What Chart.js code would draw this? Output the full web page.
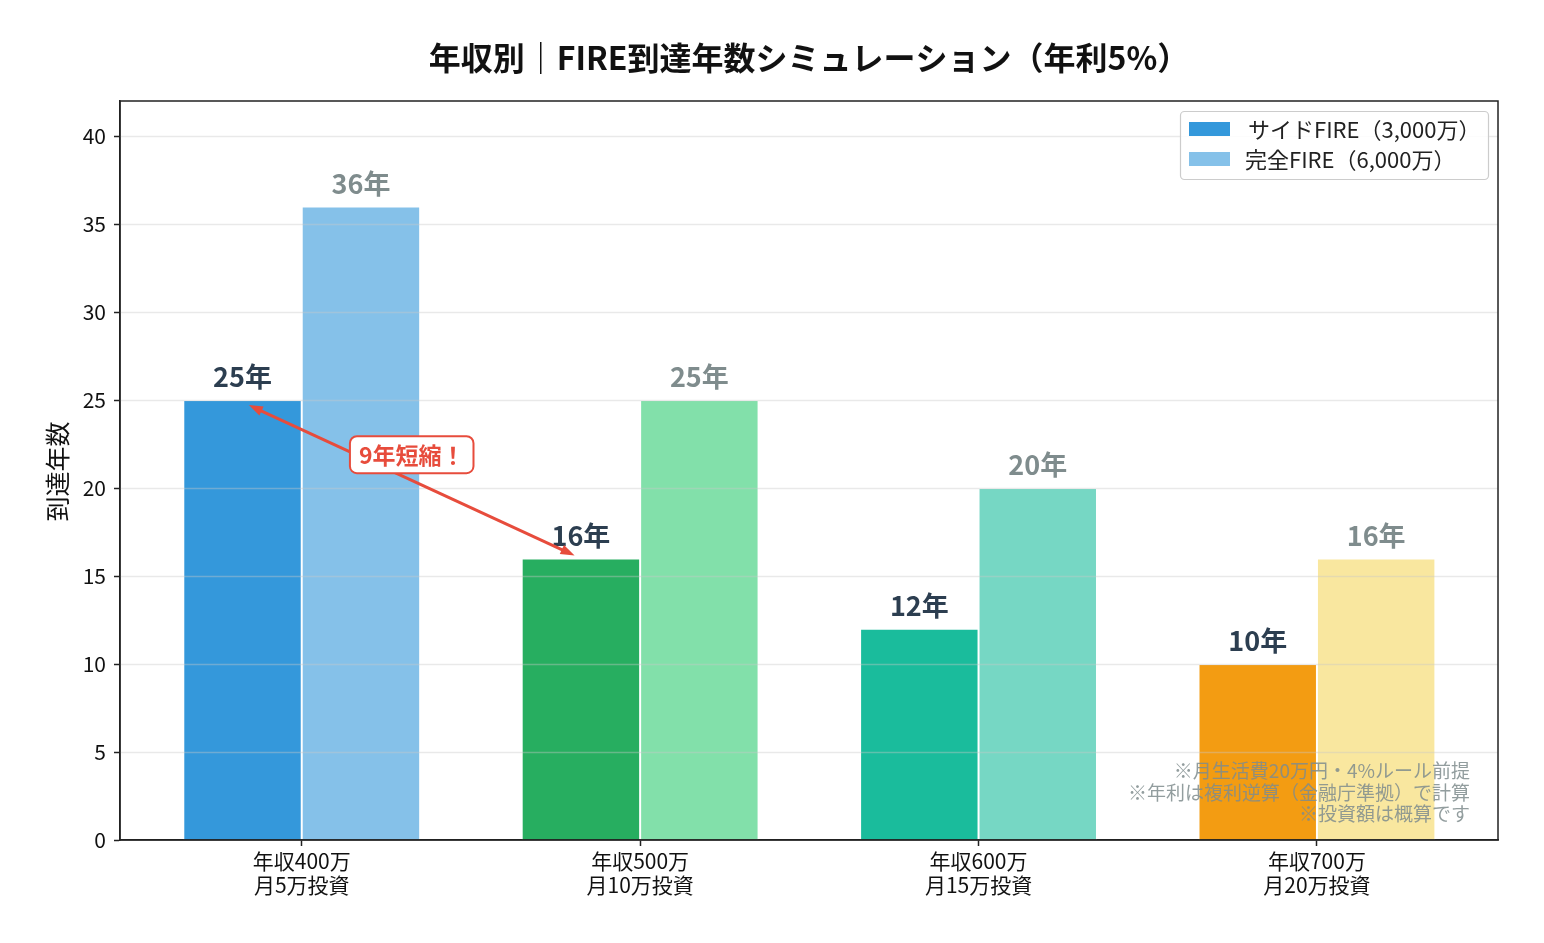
<!DOCTYPE html>
<html>
<head>
<meta charset="utf-8">
<script src="https://cdn.jsdelivr.net/npm/chart.js@4.4.1/dist/chart.umd.min.js"></script>
<style>
  html, body { margin: 0; padding: 0; background: #fff; }
  #wrap { width: 1544px; height: 943px; }
</style>
</head>
<body>
<div id="wrap"><canvas id="fireChart" width="1544" height="943"></canvas></div>
<script>
const categories = [
    ['年収400万', '月5万投資'],
    ['年収500万', '月10万投資'],
    ['年収600万', '月15万投資'],
    ['年収700万', '月20万投資']
];
const seriesNames = ['サイドFIRE（3,000万）', '完全FIRE（6,000万）'];
const sideFire = [25, 16, 12, 10];
const fullFire = [36, 25, 20, 16];
const sideColors = ['#3498db', '#27ae60', '#1abc9c', '#f39c12'];
const fullColors = ['#85c1e9', '#82e0aa', '#76d7c4', '#f9e79f'];
const yTicks = [0, 5, 10, 15, 20, 25, 30, 35, 40];
const titleText = '年収別｜FIRE到達年数シミュレーション（年利5%）';
const yTitle = '到達年数';
const noteLines = ['※月生活費20万円・4%ルール前提', '※年利は複利逆算（金融庁準拠）で計算', '※投資額は概算です'];
const calloutText = '9年短縮！';
const calloutPos = { x: 0.325, y: 21.9 };

const FONT = '"Noto Sans CJK JP", "Noto Sans", sans-serif';

// extra drawing: frame, grid over bars, value labels, arrow, legend, notes, titles
const decor = {
    id: 'decor',
    afterDatasetsDraw(chart) {
        const { ctx, chartArea: a, scales: { x, y } } = chart;
        ctx.save();

        // grid lines (drawn over the bars, semi transparent)
        ctx.strokeStyle = 'rgba(200,200,200,0.4)';
        ctx.lineWidth = 1.5;
        yTicks.slice(1).forEach(v => {
            const py = Math.round(y.getPixelForValue(v)) + 0.5;
            ctx.beginPath(); ctx.moveTo(a.left, py); ctx.lineTo(a.right, py); ctx.stroke();
        });

        // value labels
        ctx.textAlign = 'center';
        ctx.textBaseline = 'middle';
        ctx.font = 'bold 27px ' + FONT;
        [0, 1].forEach(d => {
            ctx.fillStyle = d === 0 ? '#2c3e50' : '#7f8c8d';
            chart.getDatasetMeta(d).data.forEach((bar, i) => {
                const v = chart.data.datasets[d].data[i].y;
                ctx.fillText(v + '年', bar.x, bar.y - 23);
            });
        });

        // arrow between side FIRE bars 1 and 2
        const m = chart.getDatasetMeta(0).data;
        let x1 = m[0].x, y1 = m[0].y, x2 = m[1].x, y2 = m[1].y;
        const len = Math.hypot(x2 - x1, y2 - y1);
        const ux = (x2 - x1) / len, uy = (y2 - y1) / len;
        x1 += ux * 7; y1 += uy * 7 + 2; x2 -= ux * 7; y2 -= uy * 7;
        ctx.strokeStyle = '#e74c3c';
        ctx.fillStyle = '#e74c3c';
        ctx.lineWidth = 3;
        ctx.beginPath(); ctx.moveTo(x1 + ux * 10, y1 + uy * 10); ctx.lineTo(x2 - ux * 10, y2 - uy * 10); ctx.stroke();
        const head = (hx, hy, dx, dy) => {
            ctx.beginPath();
            ctx.moveTo(hx, hy);
            ctx.lineTo(hx - dx * 14 - dy * 5, hy - dy * 14 + dx * 5);
            ctx.lineTo(hx - dx * 14 + dy * 5, hy - dy * 14 - dx * 5);
            ctx.closePath(); ctx.fill();
        };
        head(x2, y2, ux, uy);
        head(x1, y1, -ux, -uy);

        // callout box
        const cx = x.getPixelForValue(calloutPos.x), cy = y.getPixelForValue(calloutPos.y);
        ctx.font = 'bold 23px ' + FONT;
        const tw = ctx.measureText(calloutText).width;
        const bw = tw + 18, bh = 37;
        ctx.beginPath();
        ctx.roundRect(cx - bw / 2, cy - bh / 2, bw, bh, 7);
        ctx.fillStyle = '#fff'; ctx.fill();
        ctx.lineWidth = 2; ctx.strokeStyle = '#e74c3c'; ctx.stroke();
        ctx.fillStyle = '#e74c3c';
        ctx.fillText(calloutText, cx, cy + 1);

        // notes bottom right
        ctx.font = '19px ' + FONT;
        ctx.fillStyle = 'rgba(127,140,141,0.85)';
        ctx.textAlign = 'right';
        noteLines.forEach((t, i) => ctx.fillText(t, 1470, 771 + i * 21.5));

        // legend
        ctx.beginPath();
        ctx.roundRect(1180.5, 111.5, 308, 68, 4);
        ctx.fillStyle = 'rgba(255,255,255,0.85)'; ctx.fill();
        ctx.strokeStyle = '#cccccc'; ctx.lineWidth = 1.2; ctx.stroke();
        ctx.textAlign = 'left';
        ctx.font = '22px ' + FONT;
        [sideColors[0], fullColors[0]].forEach((c, i) => {
            const ly = 129 + i * 30;
            ctx.fillStyle = c;
            ctx.fillRect(1189, ly - 7, 41, 14);
            ctx.fillStyle = '#222';
            ctx.fillText(seriesNames[i], 1247 - (i === 1 ? 2 : -1), ly + 1);
        });

        // frame
        ctx.strokeStyle = '#222';
        ctx.lineWidth = 1.5;
        ctx.strokeRect(a.left, a.top, a.right - a.left, a.bottom - a.top);

        // title
        ctx.textAlign = 'center';
        ctx.fillStyle = '#111';
        ctx.font = 'bold 32px ' + FONT;
        ctx.fillText(titleText, (a.left + a.right) / 2 - 8 + 8, 58);

        // y axis title
        ctx.save();
        ctx.translate(57, (a.top + a.bottom) / 2 + 1);
        ctx.rotate(-Math.PI / 2);
        ctx.font = '25px ' + FONT;
        ctx.fillStyle = '#111';
        ctx.fillText(yTitle, 0, 0);
        ctx.restore();

        ctx.restore();
    }
};

new Chart(document.getElementById('fireChart'), {
    type: 'bar',
    data: {
        datasets: [
            {
                label: seriesNames[0],
                data: sideFire.map((v, i) => ({ x: i, y: v })),
                backgroundColor: sideColors,
                borderColor: '#ffffff',
                borderWidth: 1,
                categoryPercentage: 0.70,
                barPercentage: 1.0
            },
            {
                label: seriesNames[1],
                data: fullFire.map((v, i) => ({ x: i, y: v })),
                backgroundColor: fullColors,
                borderColor: '#ffffff',
                borderWidth: 1,
                categoryPercentage: 0.70,
                barPercentage: 1.0
            }
        ]
    },
    options: {
        responsive: false,
        animation: false,
        layout: { padding: { left: 0, right: 46, top: 101, bottom: 0 } },
        plugins: {
            legend: { display: false },
            title: { display: false },
            tooltip: { enabled: false }
        },
        scales: {
            x: {
                type: 'linear',
                offset: false,
                min: -0.537,
                max: 3.535,
                afterBuildTicks: s => { s.ticks = categories.map((_, i) => ({ value: i })); },
                afterFit: s => { s.height = 103; },
                ticks: {
                    callback: v => categories[v],
                    font: { family: FONT, size: 21, lineHeight: 1.15 },
                    color: '#111',
                    padding: 3,
                    maxRotation: 0,
                    autoSkip: false
                },
                grid: { offset: false, drawOnChartArea: false, drawTicks: true, tickLength: 6, tickColor: '#222', tickWidth: 1.5 },
                border: { display: true, color: '#222', width: 1.5 }
            },
            y: {
                min: 0,
                max: 42,
                afterBuildTicks: s => { s.ticks = yTicks.map(v => ({ value: v })); },
                afterFit: s => { s.width = 120; },
                ticks: {
                    font: { family: FONT, size: 21 },
                    color: '#111',
                    padding: 8
                },
                grid: { drawOnChartArea: false, drawTicks: true, tickLength: 6, tickColor: '#222', tickWidth: 1.5 },
                border: { display: true, color: '#222', width: 1.5 }
            }
        }
    },
    plugins: [decor]
});
</script>
</body>
</html>
